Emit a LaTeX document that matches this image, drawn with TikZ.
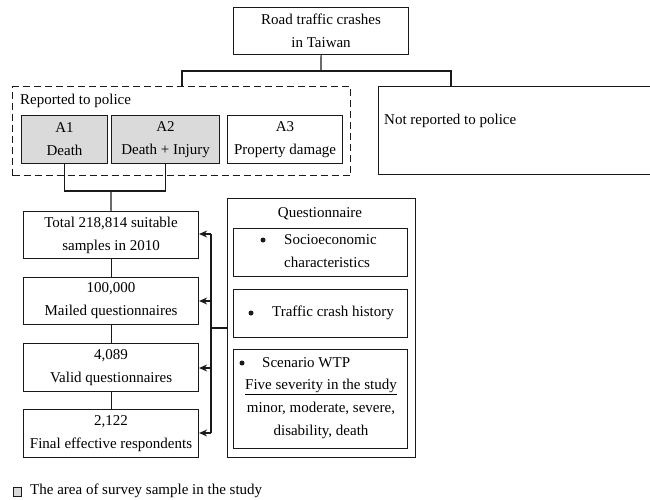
\documentclass[tikz,border=0pt]{standalone}
\usepackage{fontspec}
\setmainfont{Liberation Serif}
\usetikzlibrary{arrows.meta}
\definecolor{lc}{HTML}{1A1A1A}
\definecolor{shade}{HTML}{DADADA}
\tikzset{
  box/.style={draw=lc, line width=1.1pt, rectangle, anchor=north west, inner sep=0pt, align=center,
    font=\fontsize{15}{23}\selectfont},
  txt/.style={inner sep=0pt, font=\fontsize{15}{23}\selectfont, align=left},
  conn/.style={draw=lc, line width=1.1pt},
  arr/.style={conn, -{Stealth[length=8pt,width=7pt]}},
  bul/.style={circle, fill=lc, inner sep=0pt, minimum size=5pt},
}
\begin{document}
\begin{tikzpicture}[x=1pt,y=-1pt]
\useasboundingbox (0,0) rectangle (650,500);
\clip (0,0) rectangle (650,500);
% top
\node[box, minimum width=175, minimum height=47] (top) at (233,7) {Road traffic crashes\\in Taiwan};
% dashed group
\node[box, dash pattern=on 7pt off 4pt, minimum width=338, minimum height=89] (rep) at (12,86) {};
\node[txt, anchor=west] (reptxt) at (20,101) {Reported to police};
\node[box, fill=shade, minimum width=86, minimum height=48] (a1) at (21,115) {A1\\Death};
\node[box, fill=shade, minimum width=108, minimum height=48] (a2) at (111,115) {A2\\Death + Injury};
\node[box, minimum width=115, minimum height=48] (a3) at (227,115) {A3\\Property damage};
\node[box, minimum width=290, minimum height=88] (notrep) at (378,86) {};
\node[txt, anchor=west] (notreptxt) at (384,121) {Not reported to police};
% connectors top
\coordinate (j1) at (321,71);
\draw[conn] (top.south) -- (j1);
\draw[conn] (rep.north -| 182,0) |- (j1) -| (notrep.north -| 451,0);
\coordinate (j2) at (111,191);
\draw[conn] (a1.south) |- (j2) -| (a2.south);
% flow column
\node[box, minimum width=175, minimum height=47] (b1) at (23,211) {Total 218,814 suitable\\samples in 2010};
\node[box, minimum width=175, minimum height=47] (b2) at (23,277) {100,000\\Mailed questionnaires};
\node[box, minimum width=175, minimum height=48] (b3) at (23,343) {4,089\\Valid questionnaires};
\node[box, minimum width=175, minimum height=48] (b4) at (23,409) {2,122\\Final effective respondents};
\draw[conn] (j2) -- (b1.north);
\draw[conn] (b1.south) -- (b2.north);
\draw[conn] (b2.south) -- (b3.north);
\draw[conn] (b3.south) -- (b4.north);
% questionnaire
\node[box, minimum width=188, minimum height=259] (q) at (227,198) {};
\node[txt] (qtxt) at (320,214) {Questionnaire};
\node[box, minimum width=174, minimum height=48] (q1) at (233,228) {};
\node[bul] (q1b) at (263,240) {};
\node[txt, anchor=north west] (q1t) at (284,234) {Socioeconomic\\characteristics};
\node[box, minimum width=174, minimum height=48] (q2) at (233,289) {};
\node[bul] (q2b) at (251,313) {};
\node[txt, anchor=west] (q2t) at (272,313) {Traffic crash history};
\node[box, minimum width=174, minimum height=99] (q3) at (233,349) {};
\node[bul] (q3b) at (242,363) {};
\node[txt, anchor=west] (q3t) at (262,363) {Scenario WTP};
\node[txt, align=center, anchor=north] (q3d) at (321,379) {\underline{Five severity in the study}\\minor, moderate, severe,\\disability, death};
% arrows
\coordinate (jq) at (211,328);
\draw[conn] (q.west |- jq) -- (jq);
\draw[conn] (211,234) -- (211,433);
\draw[arr] (211,234) -- (b1.east |- 0,234);
\draw[arr] (211,301) -- (b2.east |- 0,301);
\draw[arr] (211,368) -- (b3.east |- 0,368);
\draw[arr] (211,433) -- (b4.east |- 0,433);
% legend
\node[draw=lc, fill=shade, line width=0.8pt, minimum width=8pt, minimum height=9pt, inner sep=0pt] (leg) at (17,492) {};
\node[txt, anchor=west] (legt) at (30,491) {The area of survey sample in the study};
\end{tikzpicture}
\end{document}
